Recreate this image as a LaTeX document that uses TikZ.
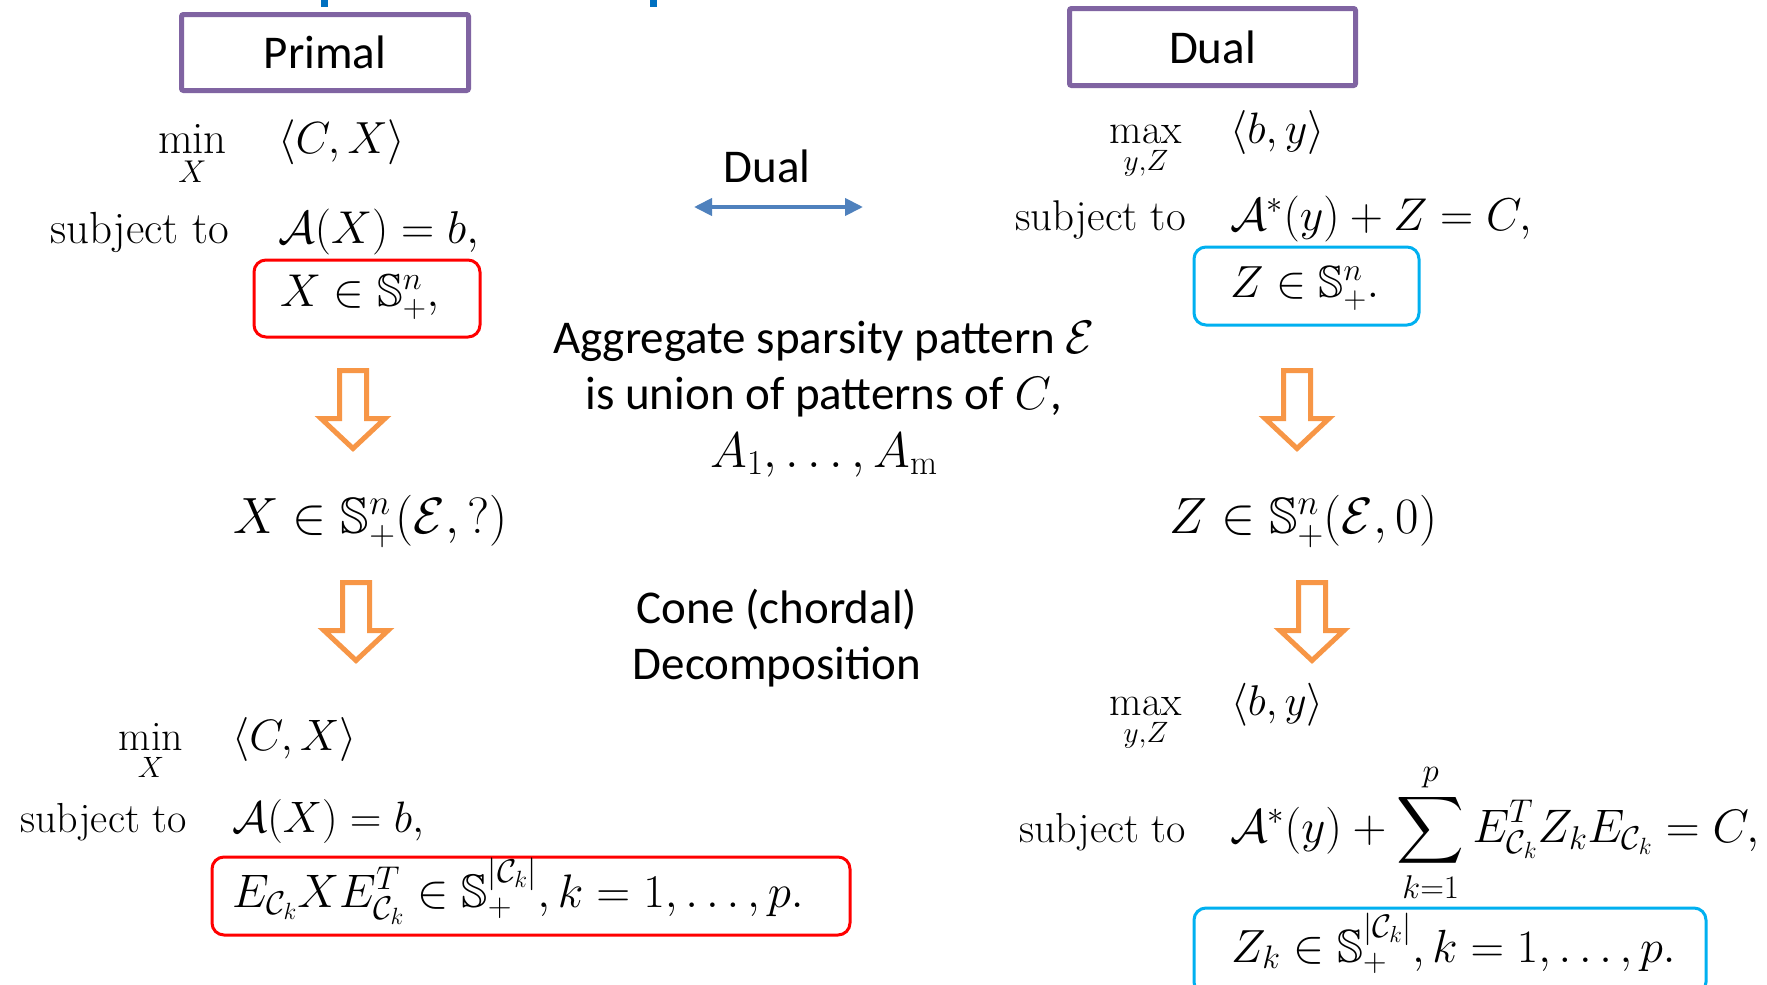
\RequirePackage{fix-cm}
\documentclass[tikz,border=0pt]{standalone}
\usepackage{amsmath,amssymb}
\usepackage{fontspec}
\newfontfamily\slidefont{Carlito}
\usetikzlibrary{arrows.meta}
\definecolor{purp}{HTML}{8064A2}
\definecolor{boxred}{HTML}{FF0000}
\definecolor{boxcyan}{HTML}{00B0F0}
\definecolor{arrorange}{HTML}{F79646}
\definecolor{arrblue}{HTML}{4F81BD}
\definecolor{titleblue}{HTML}{0070C0}
\newcommand{\sfontx}{\slidefont\fontsize{47}{56}\selectfont}
\tikzset{
  mth/.style={inner sep=0pt, font=\fontsize{#1}{#1}\selectfont},
  mth/.default=42,
  slide/.style={inner sep=0pt, font=\sfontx},
  titlebox/.style={draw=purp, line width=5pt, rounded corners=2pt, inner sep=0pt, font=\sfontx},
  redbox/.style={draw=boxred, line width=3pt, rounded corners=12pt, inner sep=0pt},
  bluebox/.style={draw=boxcyan, line width=3pt, rounded corners=12pt, inner sep=0pt},
  hollowdown/.pic={
    \draw[arrorange, line width=5pt, fill=white, miter limit=10]
      (-13.5,0) -- (13.5,0) -- (13.5,48) -- (32,48) -- (0,78) -- (-32,48) -- (-13.5,48) -- cycle;
  },
  dualarrow/.style={arrblue, line width=4pt, {Triangle[length=18pt,width=17pt]}-{Triangle[length=18pt,width=17pt]}}
}
\begin{document}
\begin{tikzpicture}[x=1pt,y=-1pt]
\useasboundingbox (0,0) rectangle (1767,985);
\fill[white] (0,0) rectangle (1767,985);
\clip (0,0) rectangle (1767,985);

% fragments of the cut-off title
\fill[titleblue] (320.5,0) rectangle (327.5,7);
\fill[titleblue] (649.5,0) rectangle (656.5,7);

% title boxes
\node[titlebox, minimum width=287pt, minimum height=76pt] (primal) at (325,52.5) {Primal};
\node[titlebox, minimum width=286pt, minimum height=77pt] (dualbox) at (1212.5,47) {Dual};

% primal problem (top)
\node[mth=45, anchor=base] (pmin) at (192.5,153) {$\displaystyle\min_{X}$};
\node[mth=45, anchor=base west] (pobj) at (278,153) {$\langle C, X\rangle$};
\node[mth=45, anchor=base east] (pst) at (229,243) {subject to};
\node[mth=46, anchor=base west] (pcon) at (278,243) {$\mathcal{A}(X) = b,$};
\node[redbox, minimum width=226pt, minimum height=77pt] (pbox) at (367,298.5) {};
\node[mth=46, anchor=base west] (pcone) at (280,306) {$X \in \mathbb{S}^n_+,$};

% dual problem (top)
\node[mth=42, anchor=base] (dmax) at (1146,143) {$\displaystyle\max_{y,Z}$};
\node[mth=44, anchor=base west] (dobj) at (1230,143) {$\langle b, y\rangle$};
\node[mth=43, anchor=base east] (dst) at (1186,230) {subject to};
\node[mth=46, anchor=base west] (dcon) at (1230,230) {$\mathcal{A}^*(y) + Z = C,$};
\node[bluebox, minimum width=225pt, minimum height=78pt] (dbox) at (1306.5,286) {};
\node[mth=45, anchor=base west] (dcone) at (1230,297) {$Z \in \mathbb{S}^n_+.$};

% duality arrow
\node[slide, anchor=base] (duallabel) at (767,182) {Dual};
\coordinate (dl) at (694,207);
\coordinate (dr) at (863,207);
\draw[dualarrow] (dl) -- (dr);

% aggregate sparsity text
\node[slide, anchor=base] (agg1) at (824,353) {Aggregate sparsity pattern $\mathcal{E}$};
\node[slide, anchor=base] (agg2) at (824,409) {is union of patterns of $C$,};
\node[slide, anchor=base, font=\slidefont\fontsize{50}{56}\selectfont] (agg3) at (824,467) {$A_1, \ldots, A_{\mathrm{m}}$};

% block arrows
\pic at (353,370.5) {hollowdown};
\pic at (356,582.5) {hollowdown};
\pic at (1297,370.5) {hollowdown};
\pic at (1312,582.5) {hollowdown};

% sparse cones
\node[mth=51, anchor=base west] (psp) at (233,533) {$X \in \mathbb{S}^n_+(\mathcal{E}, ?)$};
\node[mth=51, anchor=base west] (dsp) at (1169,533) {$Z \in \mathbb{S}^n_+(\mathcal{E}, 0)$};

% cone decomposition text
\node[slide, anchor=base] (cone1) at (777,623) {Cone (chordal)};
\node[slide, anchor=base] (cone2) at (777,679) {Decomposition};

% primal problem (decomposed)
\node[mth=42, anchor=base] (bmin) at (151,750) {$\displaystyle\min_{X}$};
\node[mth=44, anchor=base west] (bobj) at (232,750) {$\langle C, X\rangle$};
\node[mth=42, anchor=base east] (bst) at (187,832) {subject to};
\node[mth=44, anchor=base west] (bcon) at (232,832) {$\mathcal{A}(X) = b,$};
\node[redbox, minimum width=638pt, minimum height=78pt] (bbox) at (531,896) {};
\node[mth=47, anchor=base west] (bcone) at (232,907) {$E_{\mathcal{C}_k} X E_{\mathcal{C}_k}^T \in \mathbb{S}_+^{|\mathcal{C}_k|}, k = 1, \ldots, p.$};

% dual problem (decomposed)
\node[mth=42, anchor=base] (emax) at (1146,715) {$\displaystyle\max_{y,Z}$};
\node[mth=43, anchor=base west] (eobj) at (1231,715) {$\langle b, y\rangle$};
\node[mth=42, anchor=base east] (est) at (1186,842) {subject to};
\node[mth=47, anchor=base west] (econ) at (1230,842) {$\mathcal{A}^*(y) + \displaystyle\sum_{k=1}^{p} E_{\mathcal{C}_k}^T Z_k E_{\mathcal{C}_k} = C,$};
\node[bluebox, minimum width=512pt, minimum height=86pt] (ebox) at (1450,951) {};
\node[mth=46.5, anchor=base west] (econe) at (1231,962) {$Z_k \in \mathbb{S}_+^{|\mathcal{C}_k|}, k = 1, \ldots, p.$};
\end{tikzpicture}
\end{document}
